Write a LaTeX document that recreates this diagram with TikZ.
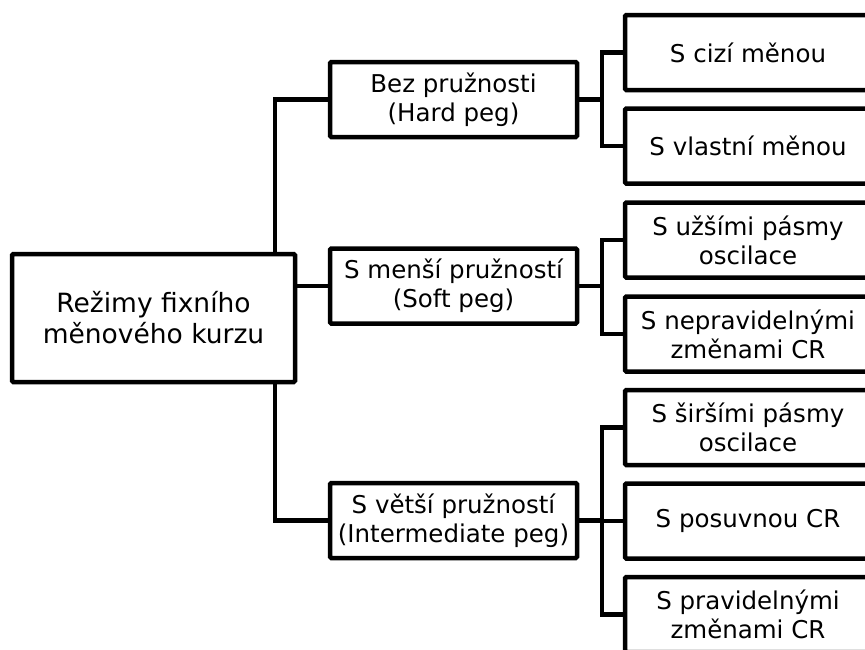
\documentclass[tikz,border=0pt]{standalone}
\usepackage{fontspec}
\setmainfont{DejaVu Sans}
\begin{document}
\begin{tikzpicture}[x=1pt,y=-1pt,
  box/.style={draw=black,line width=4.5pt,rounded corners=1.2pt,fill=white,inner sep=0pt,
    align=center,font=\fontsize{24.5}{29}\selectfont},
  rootbox/.style={box,minimum width=283pt,minimum height=128pt,font=\fontsize{26.5}{31}\selectfont},
  midbox/.style={box,minimum width=247pt,minimum height=75pt},
  leafbox/.style={box,minimum width=246pt,minimum height=75pt},
  conn/.style={draw=black,line width=4.5pt}]
\useasboundingbox (0,0) rectangle (865,649);
\clip (0,0) rectangle (865,649);
\coordinate (t) at (275,0);
\coordinate (b) at (602,0);
\node[rootbox] (root) at (153.5,318) {Režimy fixního\\měnového kurzu};
\node[midbox] (hard) at (453.5,99.5) {Bez pružnosti\\(Hard peg)};
\node[midbox] (soft) at (453.5,286) {S menší pružností\\(Soft peg)};
\node[midbox] (inter) at (453.5,520.5) {S větší pružností\\(Intermediate peg)};
\node[leafbox] (c1) at (748,52.5) {S cizí měnou};
\node[leafbox] (c2) at (748,146) {S vlastní měnou};
\node[leafbox] (c3) at (748,240) {S užšími pásmy\\oscilace};
\node[leafbox] (c4) at (748,334) {S nepravidelnými\\změnami CR};
\node[leafbox] (c5) at (748,427.5) {S širšími pásmy\\oscilace};
\node[leafbox] (c6) at (748,521) {S posuvnou CR};
\node[leafbox] (c7) at (748,614.5) {S pravidelnými\\změnami CR};
% root to middle level
\path[conn] (root.north -| t) |- (hard.west);
\path[conn] (root.south -| t) |- (inter.west);
\path[conn] (root.east |- soft.west) -- (soft.west);
% hard peg
\path[conn] (hard.east) -- (hard.east -| b);
\path[conn] (c1.west) -| (b |- hard.east) |- (c2.west);
% soft peg
\path[conn] (soft.east) -- (soft.east -| b);
\path[conn] (c3.west) -| (b |- soft.east) |- (c4.west);
% intermediate peg
\path[conn] (inter.east) -- (inter.east -| b);
\path[conn] (c5.west) -| (b |- c7.west) -- (c7.west);
\path[conn] (c6.west) -- (c6.west -| b);
\end{tikzpicture}
\end{document}
